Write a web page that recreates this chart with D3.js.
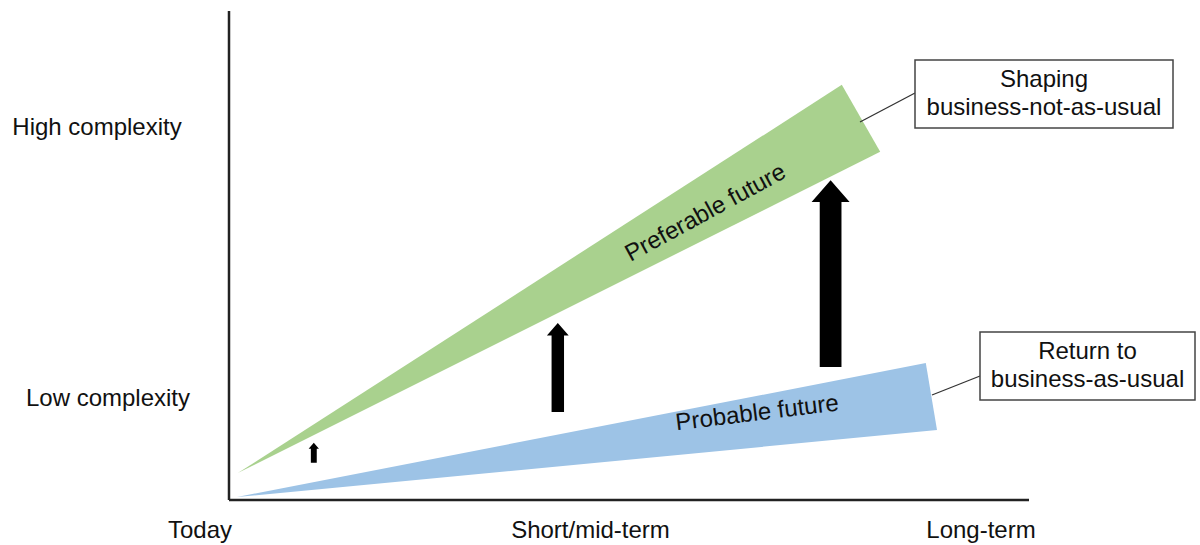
<!DOCTYPE html>
<html>
<head>
<meta charset="utf-8">
<script src="https://cdn.jsdelivr.net/npm/d3@7"></script>
<style>
  body { margin: 0; background: #fff; }
  text { font-family: "Liberation Sans", Arial, sans-serif; fill: #111; }
</style>
</head>
<body>
<div id="chart"></div>
<script>
// time labels along the bottom, complexity labels on the left
var timeLabels = ["Today", "Short/mid-term", "Long-term"];
var complexityLabels = ["High complexity", "Low complexity"];

// wedge outlines in chart units (x: time 0-100, y: complexity 0-100)
var preferableX = [1.1, 76.6, 81.4];
var preferableY = [5.5, 84.9, 71.2];
var probableX = [1.0, 87.1, 88.5];
var probableY = [0.6, 28.0, 14.3];

// arrows showing the gap between the two futures
var arrowX = [10.6, 41.1, 75.2];
var arrowFrom = [7.6, 18.0, 27.2];
var arrowTo = [11.7, 36.2, 65.4];

var wedgeNames = ["Preferable future", "Probable future"];
var calloutText = [["Shaping", "business-not-as-usual"], ["Return to", "business-as-usual"]];

var svgWidth = 1200;
var svgHeight = 545;
var fontSize = "24px";

var svg = d3.select("#chart")
    .append("svg")
    .attr("width", svgWidth)
    .attr("height", svgHeight);

var xScale = d3.scaleLinear()
    .domain([0, 100])
    .range([229, 1029]);

var yScale = d3.scaleLinear()
    .domain([0, 100])
    .range([500, 11]);

var timeScale = d3.scalePoint()
    .domain(timeLabels)
    .range([200, 981]);

var complexityScale = d3.scalePoint()
    .domain(complexityLabels)
    .range([127, 398]);

// wedges
var wedges = [
    { name: wedgeNames[0], xs: preferableX, ys: preferableY, fill: "#a9d18e" },
    { name: wedgeNames[1], xs: probableX, ys: probableY, fill: "#9dc3e6" }
];

var line = d3.line()
    .x(d => xScale(d[0]))
    .y(d => yScale(d[1]));

svg.selectAll(".wedge")
    .data(wedges)
    .enter()
    .append("path")
    .attr("class", "wedge")
    .attr("d", d => line(d.xs.map((x, i) => [x, d.ys[i]])) + "Z")
    .attr("fill", d => d.fill);

// wedge names, rotated along each wedge
var nameCentre = [[705, 212], [757, 412]];
var nameAngle = [-28.5, -7];

svg.selectAll(".wedgeName")
    .data(wedges)
    .enter()
    .append("text")
    .attr("class", "wedgeName")
    .attr("transform", (d, i) => `translate(${nameCentre[i][0]}, ${nameCentre[i][1]}) rotate(${nameAngle[i]})`)
    .attr("text-anchor", "middle")
    .attr("dy", "0.35em")
    .style("font-size", fontSize)
    .text(d => d.name);

// arrows, sized by their length
var arrows = arrowX.map((x, i) => ({ x: x, from: arrowFrom[i], to: arrowTo[i] }));

svg.selectAll(".arrow")
    .data(arrows)
    .enter()
    .append("path")
    .attr("class", "arrow")
    .attr("d", function(d) {
        var cx = xScale(d.x);
        var y0 = yScale(d.from);
        var y1 = yScale(d.to);
        var len = y0 - y1;
        var shaft = 4 + len * 0.095;
        var head = shaft * 1.75;
        var headLen = shaft;
        return `M${cx - shaft / 2},${y0} L${cx - shaft / 2},${y1 + headLen} L${cx - head / 2},${y1 + headLen}` +
            ` L${cx},${y1} L${cx + head / 2},${y1 + headLen} L${cx + shaft / 2},${y1 + headLen} L${cx + shaft / 2},${y0} Z`;
    })
    .attr("fill", "#000");

// axes
svg.append("line")
    .attr("x1", xScale(0)).attr("x2", xScale(0))
    .attr("y1", yScale(100)).attr("y2", yScale(0))
    .attr("stroke", "#222")
    .attr("stroke-width", 2.5);

svg.append("line")
    .attr("x1", xScale(0)).attr("x2", xScale(100))
    .attr("y1", yScale(0)).attr("y2", yScale(0))
    .attr("stroke", "#222")
    .attr("stroke-width", 2.5);

svg.selectAll(".timeLabel")
    .data(timeLabels)
    .enter()
    .append("text")
    .attr("class", "timeLabel")
    .attr("x", d => timeScale(d))
    .attr("y", 538)
    .attr("text-anchor", "middle")
    .style("font-size", fontSize)
    .text(d => d);

var complexityX = [97, 108];
svg.selectAll(".complexityLabel")
    .data(complexityLabels)
    .enter()
    .append("text")
    .attr("class", "complexityLabel")
    .attr("x", (d, i) => complexityX[i])
    .attr("y", d => complexityScale(d))
    .attr("dy", "0.35em")
    .attr("text-anchor", "middle")
    .style("font-size", fontSize)
    .text(d => d);

// callout boxes with leader lines
var boxes = [
    { x: 915, y: 60, w: 258, h: 68, lx: 860, ly: 122, ty: 93 },
    { x: 980, y: 332, w: 215, h: 68, lx: 932, ly: 395, ty: 376 }
];

var callouts = svg.selectAll(".callout")
    .data(boxes)
    .enter()
    .append("g")
    .attr("class", "callout");

callouts.append("line")
    .attr("x1", d => d.lx)
    .attr("y1", d => d.ly)
    .attr("x2", d => d.x)
    .attr("y2", d => d.ty)
    .attr("stroke", "#333")
    .attr("stroke-width", 1.3);

callouts.append("rect")
    .attr("x", d => d.x)
    .attr("y", d => d.y)
    .attr("width", d => d.w)
    .attr("height", d => d.h)
    .attr("fill", "#fff")
    .attr("stroke", "#444")
    .attr("stroke-width", 1.5);

callouts.each(function(d, i) {
    d3.select(this).selectAll("text")
        .data(calloutText[i])
        .enter()
        .append("text")
        .attr("x", d.x + d.w / 2)
        .attr("y", (t, j) => d.y + 27 + j * 28)
        .attr("text-anchor", "middle")
        .style("font-size", fontSize)
        .text(t => t);
});
</script>
</body>
</html>
